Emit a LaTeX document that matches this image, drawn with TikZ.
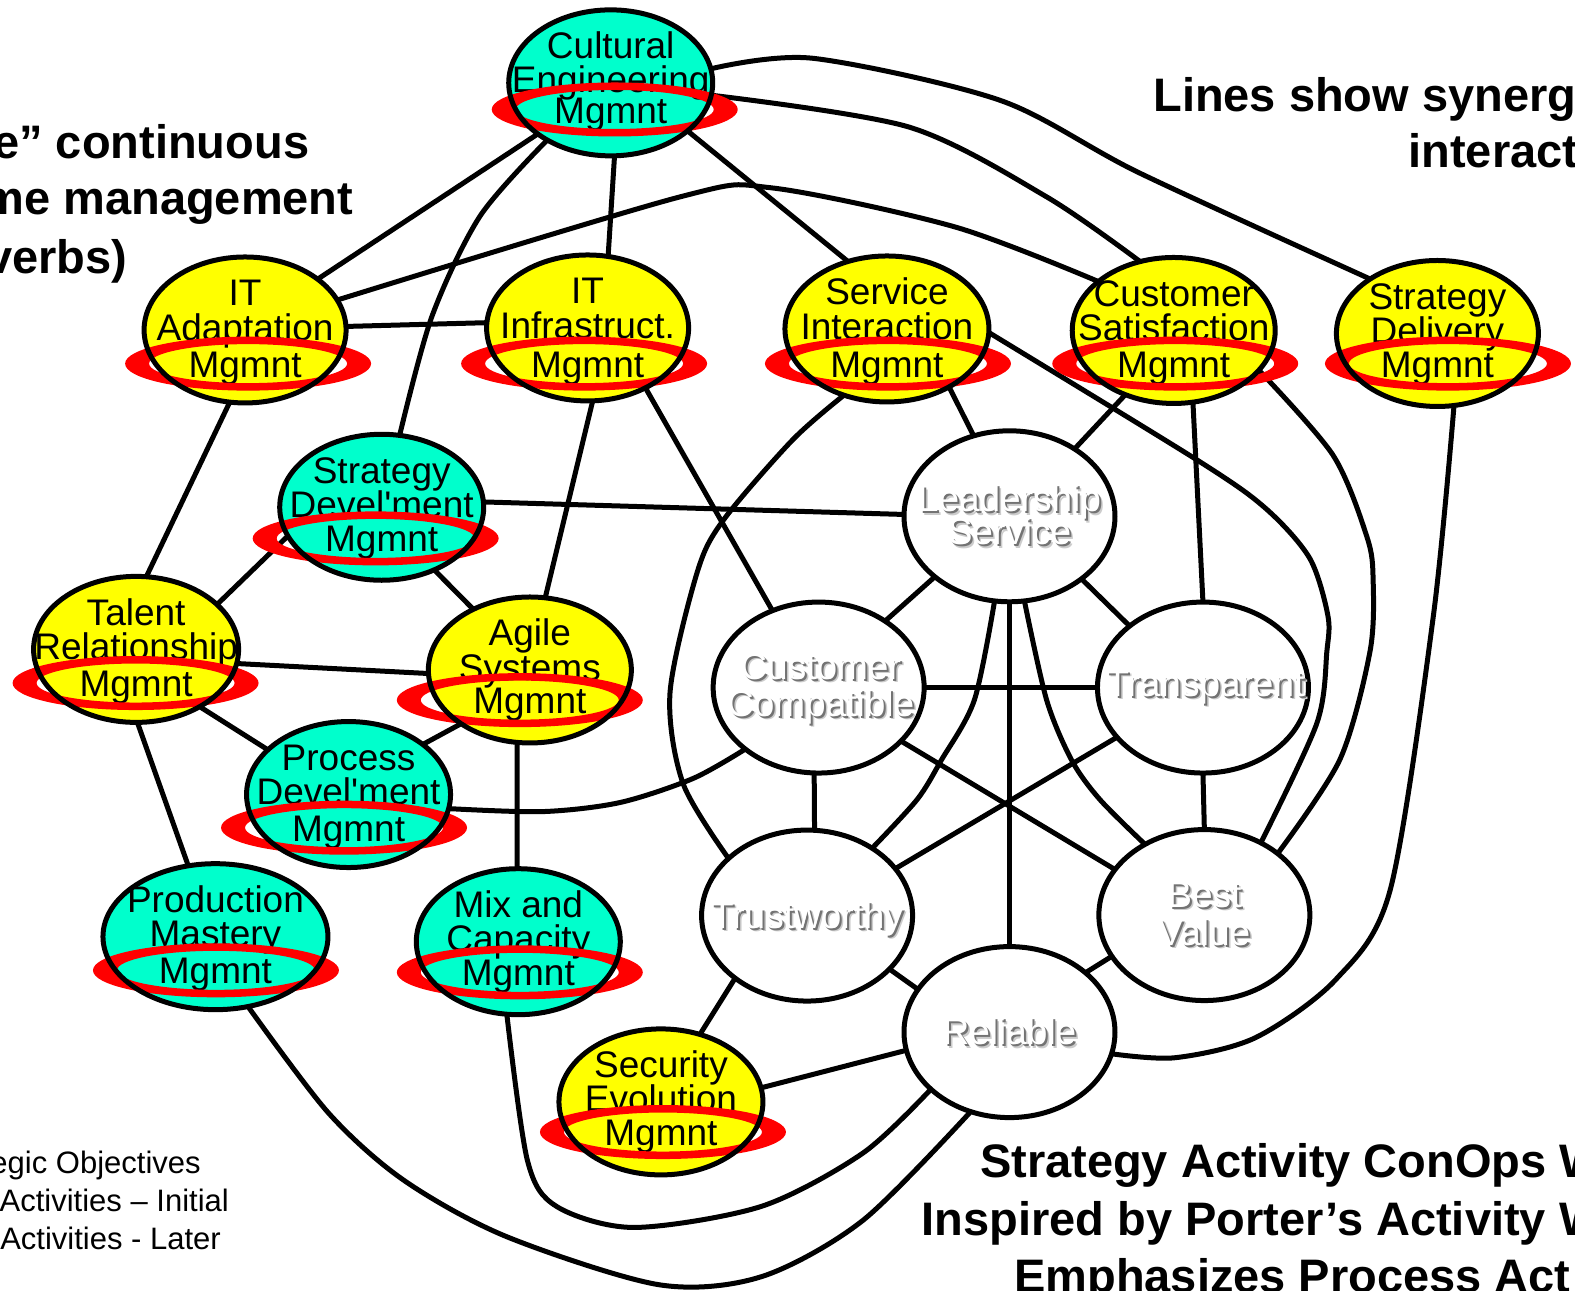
\documentclass[tikz,border=0pt]{standalone}
\usepackage{fontspec}
\setmainfont{Liberation Sans}
\usetikzlibrary{shapes.geometric}
\definecolor{aquafill}{RGB}{0,255,204}
\definecolor{yelfill}{RGB}{255,255,0}
\definecolor{ringred}{RGB}{255,0,0}
\pgfdeclarelayer{bg}
\pgfsetlayers{bg,main}
\newcommand\shtxt[1]{\makebox[0pt][l]{\hspace*{3.5pt}\raisebox{-3.5pt}{\color{black!20}#1}}\makebox[0pt][l]{\hspace*{2pt}\raisebox{-2pt}{\color{black!55}#1}}\textcolor{white}{#1}}
\tikzset{
 actshape/.style={ellipse, inner sep=0pt, outer sep=0pt, minimum height=146pt},
 acttext/.style={font=\fontsize{37}{37}\selectfont, inner sep=0pt, anchor=base},
 objshape/.style={ellipse, draw=black, line width=5pt, fill=white, inner sep=0pt, outer sep=0pt, minimum width=211pt, minimum height=171pt},
 objtext/.style={font=\fontsize{37}{37}\selectfont, inner sep=0pt, anchor=base},
 conn/.style={line width=5pt, line join=round},
 titletext/.style={font=\fontsize{47}{47}\selectfont\bfseries, inner sep=0pt},
 legendtext/.style={font=\fontsize{31}{31}\selectfont, inner sep=0pt}
}
% name, cx, cy, rx, fill, line1, line2, ring x, ring y
\newcommand\ActNode[9]{%
  \node[actshape, fill=#5, minimum width=#4*2pt] (#1) at (#2,#3) {};
  \node[acttext] (#1-l1) at (#2,#3-24) {#6};
  \node[acttext] (#1-l2) at (#2,#3+10) {#7};
  \node[acttext] (#1-l3) at (#2,#9+13.5) {Mgmnt};
  \fill[ringred, even odd rule] (#8,#9) ellipse [x radius=123pt, y radius=27pt] (#8,#9) ellipse [x radius=99pt, y radius=19.5pt];
  \draw[line width=5pt] (#1.center) ellipse [x radius=#4pt, y radius=73pt];
}
\begin{document}
\begin{tikzpicture}[x=1.0045pt,y=-1.0045pt]
\useasboundingbox (0,0) rectangle (1568,1285);
\clip (0,0) rectangle (1568,1285);

% ---------- activity nodes ----------
\ActNode{CE}{608}{82.5}{102}{aquafill}{Cultural}{Engineering}{612}{109}
\ActNode{ITA}{244}{328.5}{101}{yelfill}{IT}{Adaptation}{247}{362}
\ActNode{ITI}{585}{326.5}{101}{yelfill}{IT}{Infrastruct.}{581.5}{362}
\ActNode{SI}{883}{327.5}{102}{yelfill}{Service}{Interaction}{884}{362}
\ActNode{CS}{1168.5}{329}{101.5}{yelfill}{Customer}{Satisfaction}{1170}{362}
\ActNode{SD}{1431}{332}{101}{yelfill}{Strategy}{Delivery}{1441.5}{362}
\ActNode{SDv}{380}{505}{102}{aquafill}{Strategy}{Devel\textquotesingle ment}{374}{536}
\ActNode{TR}{135.5}{646.5}{102.5}{yelfill}{Talent}{Relationship}{135}{680}
\ActNode{AS}{527.5}{667}{101.5}{yelfill}{Agile}{Systems}{517.5}{697}
\ActNode{PD}{347}{791}{102}{aquafill}{Process}{Devel\textquotesingle ment}{342.5}{824}
\ActNode{PM}{214.5}{932.5}{112.5}{aquafill}{Production}{Mastery}{215}{966}
\ActNode{MC}{516}{937.5}{102}{aquafill}{Mix and}{Capacity}{517.5}{968}
\ActNode{SE}{658}{1097}{102}{yelfill}{Security}{Evolution}{660}{1127}

% ---------- objective nodes ----------
\node[objshape] (LS) at (1005,514) {};
\node[objtext] (LS-l1) at (1005,509.5) {\shtxt{Leadership}};
\node[objtext] (LS-l2) at (1005,542.5) {\shtxt{Service}};
\node[objshape] (CC) at (815,684.5) {};
\node[objtext] (CC-l1) at (817,676) {\shtxt{Customer}};
\node[objtext] (CC-l2) at (817,713) {\shtxt{Compatible}};
\node[objshape] (TP) at (1197.6,684.5) {};
\node[objtext] (TP-l1) at (1200,693) {\shtxt{Transparent}};
\node[objshape] (TW) at (803.5,911.5) {};
\node[objtext] (TW-l1) at (803.5,924) {\shtxt{Trustworthy}};
\node[objshape] (BV) at (1199,911) {};
\node[objtext] (BV-l1) at (1199,903) {\shtxt{Best}};
\node[objtext] (BV-l2) at (1199,941) {\shtxt{Value}};
\node[objshape] (RL) at (1005,1027.5) {};
\node[objtext] (RL-l1) at (1005,1040) {\shtxt{Reliable}};

% ---------- texts ----------
\node[titletext, anchor=base east] (tl1) at (308,157.5) {e” continuous};
\node[titletext, anchor=base east] (tl2) at (352,214) {me management};
\node[titletext, anchor=base east] (tl3) at (127,272) {verbs)};
\node[titletext, anchor=base west] (tr1) at (1148,111.5) {Lines show synerg};
\node[titletext, anchor=base west] (tr2) at (1402,167) {interact};
\node[titletext, anchor=base west] (bt1) at (975.5,1172.5) {Strategy Activity ConOps W};
\node[titletext, anchor=base west] (bt2) at (917.5,1229.5) {Inspired by Porter’s Activity W};
\node[titletext, anchor=base west] (bt3) at (1009.5,1287) {Emphasizes Process Act};
\node[legendtext, anchor=base east] (lg1) at (200,1168) {egic Objectives};
\node[legendtext, anchor=base east] (lg2) at (228,1206) {Activities – Initial};
\node[legendtext, anchor=base east] (lg3) at (220,1244) {Activities - Later};

% ---------- connectors ----------
\begin{pgfonlayer}{bg}
\fill[white] (0,0) rectangle (1568,1285);
\draw[conn] (CE.215) -- (ITA.35);
\draw[conn] plot[smooth] coordinates {(CE.222) (478,215) (430,315) (SDv.76)};
\draw[conn] (CE.273) -- (ITI.74);
\draw[conn] (CE.328) -- (SI.120);
\draw[conn] plot[smooth] coordinates {(CE.353) (905,126.5) (1042,196) (CS.116)};
\draw[conn] plot[smooth] coordinates {(CE.8) (809,58) (996,100) (1134,172) (SD.141)};
\draw[conn] (ITA.2) -- (ITI.177);
\draw[conn] plot[smooth] coordinates {(ITA.18) (677,196) (768,187) (951,226) (CS.147)};
\draw[conn] (ITA.258) -- (TR.82);
\draw[conn] (ITI.274) -- (AS.78);
\draw[conn] (ITI.314) -- (CC.121);
\draw[conn] (SI.317) -- (LS.114);
\draw[conn] plot[smooth] coordinates {(SI.237) (789,438) (720,518) (694,570) (667,690) (680,780) (TW.144)};
\draw[conn] plot[smooth] coordinates {(SI.358) (1195,460) (1261,507) (1304,556) (1322,613) (1321,648) (1311,720) (BV.52)};
\draw[conn] (CS.233) -- (LS.46);
\draw[conn] (CS.285) -- (TP.90);
\draw[conn] plot[smooth] coordinates {(CS.335) (1327,453) (1361,535) (1367,577) (1364,648) (1334,756) (BV.40)};
\draw[conn] plot[smooth] coordinates {(SD.283) (1427,613) (1384,886) (1330,975) (1250,1033) (1170,1053) (RL.348)};
\draw[conn] (SDv.3) -- (LS.179);
\draw[conn] (SDv.197) -- (TR.29);
\draw[conn] (SDv.310) -- (AS.133);
\draw[conn] (TR.352) -- (AS.182);
\draw[conn] (TR.318) -- (PD.151);
\draw[conn] (TR.271) -- (PM.111);
\draw[conn] (AS.218) -- (PD.34);
\draw[conn] (AS.260) -- (MC.91);
\draw[conn] plot[smooth] coordinates {(PD.352) (540,808) (617,799) (690,775) (CC.220)};
\draw[conn] plot[smooth] coordinates {(PM.295) (327,1108) (402,1175) (504,1231) (656,1279) (758,1271) (859,1215) (RL.244)};
\draw[conn] plot[smooth] coordinates {(MC.261) (525,1155) (554,1201) (631,1222) (758,1201) (859,1148) (RL.216)};
\draw[conn] (SE.60) -- (TW.221);
\draw[conn] (SE.8) -- (RL.190);
\draw[conn] (LS.219) -- (CC.45);
\draw[conn] (LS.319) -- (TP.140);
\draw[conn] (LS.270) -- (RL.90);
\draw[conn] plot[smooth] coordinates {(LS.260) (970,697) (937,757) (913,796) (TW.46)};
\draw[conn] plot[smooth] coordinates {(LS.280) (1042,697) (1067,757) (1095,796) (BV.130)};
\draw[conn] (CC.0) -- (TP.180);
\draw[conn] (CC.267) -- (TW.85);
\draw[conn] (CC.327) -- (BV.153);
\draw[conn] (TP.210) -- (TW.28);
\draw[conn] (TP.270) -- (BV.90);
\draw[conn] (TW.327) -- (RL.155);
\draw[conn] (BV.204) -- (RL.38);
\end{pgfonlayer}
\end{tikzpicture}
\end{document}
